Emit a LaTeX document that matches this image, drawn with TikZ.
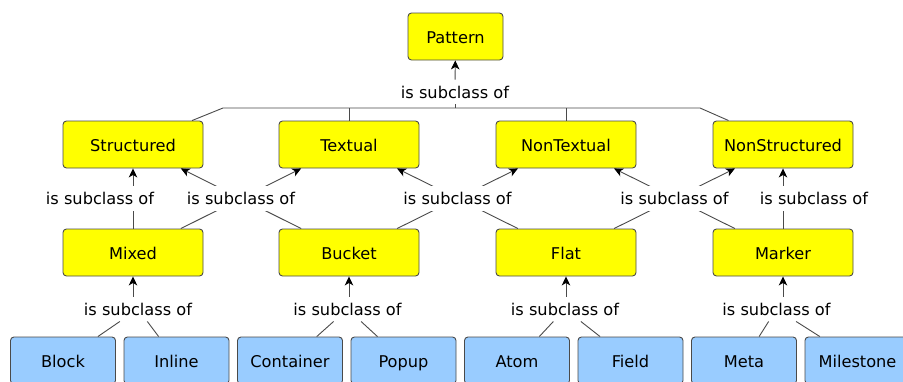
\documentclass[tikz,border=0pt]{standalone}
\usepackage{fontspec}
\setmainfont{DejaVu Sans}
\usepackage{tikz}
\usetikzlibrary{arrows.meta, calc}

\definecolor{classyellow}{HTML}{FFFF00}
\definecolor{classblue}{HTML}{99CCFF}
\definecolor{edgegray}{HTML}{4A4A4A}

\begin{document}
\begin{tikzpicture}[x=1pt, y=-1pt,
    every node/.style={font=\fontsize{16.2}{19}\selectfont},
    abstract/.style={draw=edgegray, fill=classyellow, line width=0.9pt,
      rounded corners=3.5pt, minimum width=140pt, minimum height=47pt,
      inner sep=0pt, text height=14pt, text depth=1pt},
    concrete/.style={abstract, fill=classblue, minimum width=105pt},
    rel/.style={fill=white, inner xsep=2pt, inner ysep=6pt},
    line/.style={draw=edgegray, line width=0.9pt},
    arr/.style={line, -{Stealth[length=9pt, width=8.5pt, inset=2.5pt, color=black]}}]
      \useasboundingbox (0,0) rectangle (903,381);
      \node[abstract, minimum width=95pt] (pattern) at (455.5,36.5) {Pattern};
      \node[abstract] (structured) at (133,144.5) {Structured};
      \node[abstract] (textual) at (349,144.5) {Textual};
      \node[abstract] (nontextual) at (566,144.5) {NonTextual};
      \node[abstract] (nonstructured) at (783,144.5) {NonStructured};
      \node[abstract] (mixed) at (133,252.5) {Mixed};
      \node[abstract] (bucket) at (349,252.5) {Bucket};
      \node[abstract] (flat) at (566,252.5) {Flat};
      \node[abstract] (marker) at (783,252.5) {Marker};
      \foreach \name/\txt [count=\i from 0] in {block/Block, inline/Inline,
          container/Container, popup/Popup, atom/Atom, field/Field,
          meta/Meta, milestone/Milestone}
        \node[concrete] (\name) at (63+\i*113.5,360.5) {\txt};

      \node[rel] (relpattern) at (455,92) {is subclass of};
      \coordinate (busleft) at (223,108);
      \coordinate (busright) at (700,108);
      \draw[line] (structured) -- (busleft) -- (busright) -- (nonstructured);
      \draw[line] (textual) -- (textual |- busleft);
      \draw[line] (nontextual) -- (nontextual |- busleft);
      \draw[line] (relpattern |- busleft) -- (relpattern);
      \draw[arr] (relpattern) -- (pattern);

      \draw[arr] (mixed) -- (structured);
      \draw[arr] (mixed) -- (textual);
      \draw[arr] (bucket) -- (structured);
      \draw[arr] (bucket) -- (nontextual);
      \draw[arr] (flat) -- (textual);
      \draw[arr] (flat) -- (nonstructured);
      \draw[arr] (marker) -- (nontextual);
      \draw[arr] (marker) -- (nonstructured);
      \node[rel] (relms) at (100,198.5) {is subclass of};
      \node[rel] (relmt) at ($(mixed)!0.5!(textual)$) {is subclass of};
      \node[rel] (relbn) at ($(bucket)!0.5!(nontextual)$) {is subclass of};
      \node[rel] (relfn) at ($(flat)!0.5!(nonstructured)$) {is subclass of};
      \node[rel] (relmn) at (814,198.5) {is subclass of};

      \node[rel] (relmixed) at (138,309) {is subclass of};
      \node[rel] (relbucket) at (347.5,309) {is subclass of};
      \node[rel] (relflat) at (565,309) {is subclass of};
      \node[rel] (relmarker) at (776.5,309) {is subclass of};
      \draw[arr] (relmixed.north -| mixed) -- (mixed);
      \draw[arr] (relbucket.north -| bucket) -- (bucket);
      \draw[arr] (relflat.north -| flat) -- (flat);
      \draw[arr] (relmarker.north -| marker) -- (marker);
      \draw[line] (block) -- (relmixed) -- (inline);
      \draw[line] (container) -- (relbucket) -- (popup);
      \draw[line] (atom) -- (relflat) -- (field);
      \draw[line] (meta) -- (relmarker) -- (milestone);
    \end{tikzpicture}
\end{document}
